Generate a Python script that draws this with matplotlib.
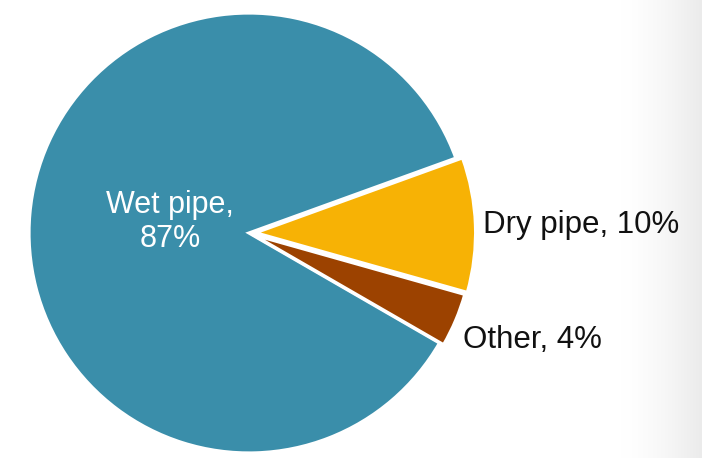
import numpy as np
import matplotlib.pyplot as plt
from matplotlib.colors import LinearSegmentedColormap

LABELS = ['Wet pipe', 'Dry pipe', 'Other']
SHARES = [87, 10, 4]
COLORS = ['#3a8eaa', '#f7b205', '#9c4200']
EXPLODE = [0.0, 0.03, 0.02]

plt.rcParams['font.family'] = ['Liberation Sans', 'DejaVu Sans']

W, H = 702, 458
CX, CY, R = 249, 233, 220  # pixel centre and radius of the pie

fig = plt.figure(figsize=(W / 100, H / 100), dpi=100)
fig.patch.set_facecolor('white')

# faint grey band on the right edge of the original slide
bg = fig.add_axes([620 / W, 0, (W - 620) / W, 1])
band = LinearSegmentedColormap.from_list('band', ['#ffffff', '#ebebeb'])
grad = np.linspace(0, 1, 200) ** 1.5
bg.imshow(np.tile(grad, (10, 1)), cmap=band, vmin=0, vmax=1, aspect='auto')
bg.axis('off')

ax = fig.add_axes([0, 0, 1, 1])
ax.patch.set_alpha(0)
wedges, _ = ax.pie(SHARES, colors=COLORS, explode=EXPLODE, startangle=-30,
                   counterclock=False, radius=1.0,
                   wedgeprops=dict(edgecolor='white', linewidth=2.3))
ax.set_xlim(-CX / R, (W - CX) / R)
ax.set_ylim(-(H - CY) / R, CY / R)
ax.set_aspect('auto')
ax.axis('off')

ax.text(-0.36, 0.05, f'{LABELS[0]},\n{SHARES[0]}%', color='white', fontsize=22,
        ha='center', va='center', linespacing=1.15)
ax.text(1.064, 0.036, f'{LABELS[1]}, {SHARES[1]}%', color='#111111', fontsize=22.5,
        ha='left', va='center')
ax.text(0.973, -0.486, f'{LABELS[2]}, {SHARES[2]}%', color='#111111', fontsize=22.5,
        ha='left', va='center')

fig.savefig('out.png', dpi=100)
